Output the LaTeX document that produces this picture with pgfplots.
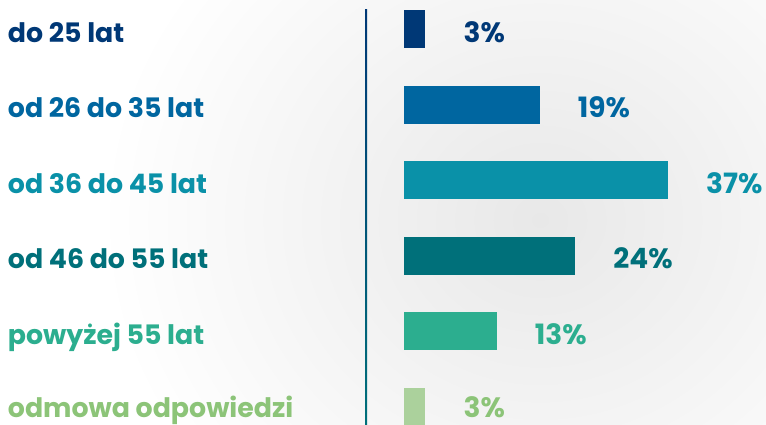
\documentclass[border=0pt]{standalone}
\usepackage{pgfplots}
\pgfplotsset{compat=1.18}
\usepackage{fontspec}
\setmainfont{Poppins}
\definecolor{cA}{RGB}{0,56,118}
\definecolor{cB}{RGB}{0,102,160}
\definecolor{cC}{RGB}{10,145,168}
\definecolor{cD}{RGB}{0,112,122}
\definecolor{cE}{RGB}{44,174,143}
\definecolor{cF}{RGB}{171,209,156}
\definecolor{cFt}{RGB}{140,196,120}
\begin{document}
\begin{tikzpicture}
\path[use as bounding box] (0,0) rectangle (766bp,425bp);
\clip (0,0) rectangle (766bp,425bp);
\shade[inner color=black!9, outer color=white] (540bp,205bp) ellipse (440bp and 400bp);
\shade[top color=cA, bottom color=cD] (365bp,0bp) rectangle (367bp,415bp);
\begin{axis}[
  at={(366bp,0bp)}, anchor=south west,
  scale only axis, width=400bp, height=425bp,
  xmin=-5.326, xmax=50.73,
  ymin=-0.3836, ymax=5.238, y dir=reverse,
  xbar, bar width=38bp, bar shift=0pt,
  axis line style={draw=none}, tick style={draw=none},
  xtick=\empty,
  ytick={0,1,2,3,4,5},
  yticklabels={\textcolor{cA}{do 25 lat},\textcolor{cB}{od 26 do 35 lat},\textcolor{cC}{od 36 do 45 lat},\textcolor{cD}{od 46 do 55 lat},\textcolor{cE}{powyżej 55 lat},\raisebox{3bp}{\textcolor{cFt}{odmowa odpowiedzi}}},
  yticklabel style={anchor=base west, inner sep=0pt, xshift=-354bp, yshift=-13bp, font=\fontsize{26.8bp}{30bp}\selectfont\bfseries},
  clip=false,
  nodes near coords={\pgfmathprintnumber[assume math mode=true]{\pgfplotspointmeta}\%},
  every node near coord/.append style={anchor=base west, inner sep=0pt, xshift=38bp, yshift=-13bp, font=\fontsize{28bp}{30bp}\selectfont\bfseries},
]
\addplot[fill=cA, draw=none, nodes near coords style={text=cA}] coordinates {(3,0)};
\addplot[fill=cB, draw=none, nodes near coords style={text=cB}] coordinates {(19,1)};
\addplot[fill=cC, draw=none, nodes near coords style={text=cC}] coordinates {(37,2)};
\addplot[fill=cD, draw=none, nodes near coords style={text=cD}] coordinates {(24,3)};
\addplot[fill=cE, draw=none, nodes near coords style={text=cE}] coordinates {(13,4)};
\addplot[fill=cF, draw=none, nodes near coords style={text=cFt, yshift=3bp}] coordinates {(3,5)};
\end{axis}
\end{tikzpicture}
\end{document}
